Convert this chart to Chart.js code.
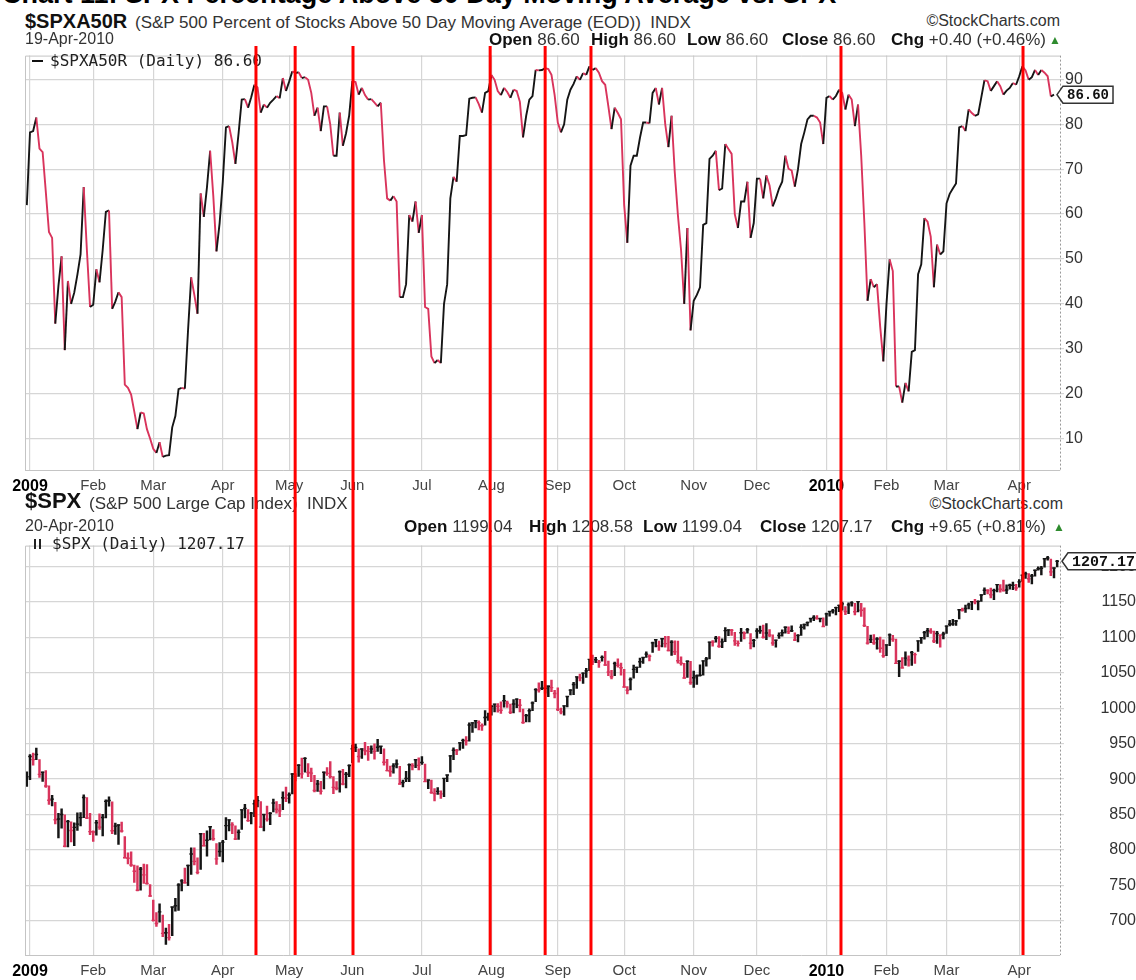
<!DOCTYPE html>
<html>
<head>
<meta charset="utf-8">
<script src="https://cdn.jsdelivr.net/npm/chart.js@4.4.1/dist/chart.umd.min.js"></script>
<style>
  body { margin: 0; width: 1136px; height: 980px; overflow: hidden; position: relative; background: #fff;
         font-family: "Liberation Sans", Arial, sans-serif; color: #333; }
  .lbl { position: absolute; white-space: nowrap; }
  .lbl b { color: #111; }
  .mono { font-family: "DejaVu Sans Mono", "Liberation Mono", monospace; color: #222; }
  .up { color: #2e8b2e; }
  canvas { position: absolute; left: 0; }
  #ov { top: 0; z-index: 10; pointer-events: none; }
  .dash { position: absolute; height: 2px; background: #111; }
  .ico { position: absolute; width: 3px; height: 10px; border-left: 2px solid #222; border-right: 2px solid #222; }
</style>
</head>
<body>
<canvas id="topChart" width="1136" height="450" style="top:45px"></canvas>
<canvas id="spxChart" width="1136" height="452" style="top:528px"></canvas>
<canvas id="ov" width="1136" height="980"></canvas>
<script>
// ---- $SPXA50R, daily closes 31-Dec-2008 .. 19-Apr-2010
const a50r = [
  62, 78.2, 78.5, 81.5, 74.6, 73.8, 65, 56, 54.7, 35.6,
  44, 50.6, 29.7, 45.1, 40, 42.5, 46.5, 51, 66, 52,
  39.3, 39.8, 47.7, 44.8, 52, 60.5, 60.8, 38.9, 40.5, 42.6,
  41.5, 22, 21.3, 19.8, 16, 12.1, 15.8, 15.6, 12.1, 10,
  7.7, 6.8, 9.2, 5.9, 6.2, 6.3, 12.5, 15, 21, 21.3,
  21.1, 34, 45.9, 42, 37.8, 64.6, 59.4, 66, 74.1, 64,
  51.7, 58, 67.2, 79.3, 79.6, 76, 71.2, 78, 85.5, 85.6,
  83.7, 86, 88.8, 88.2, 82.6, 84.4, 83.7, 84.8, 85.5, 86.3,
  85.8, 90.3, 87.4, 89.5, 91.8, 91.4, 91.6, 90.3, 90.5, 89.9,
  87, 81.9, 83.7, 78.5, 84, 84, 80, 73, 73, 82.6,
  75.2, 78, 82, 89.6, 89.4, 86.6, 88.1, 86.5, 85.5, 85.6,
  84.8, 84, 84.8, 72, 63.5, 63, 64, 62.8, 41.5, 41.5,
  44.4, 59.8, 58.3, 62.8, 55.8, 59.8, 39.3, 38.9, 28.3, 26.8,
  27.5, 26.8, 40, 44.4, 63.5, 68.3, 67.2, 77.4, 77.4, 77.6,
  85.7, 85.9, 86, 84.5, 82.6, 87, 87.4, 91, 89.9, 87.4,
  86.5, 88.1, 87.2, 85.9, 87.7, 87.4, 85, 77.1, 81.9, 85.5,
  86.3, 92.1, 92, 92.1, 92.5, 92.3, 91, 86.5, 80.4, 78.2,
  80, 85.5, 87.7, 89, 90.7, 89.9, 91.4, 91, 92.9, 92.1,
  92.5, 91.5, 89.6, 88.8, 84, 78.9, 83.7, 82.5, 81.1, 62,
  53.6, 70.8, 73, 73, 77, 80.4, 80.4, 80.2, 87, 88.1,
  84.4, 88.1, 80, 74.9, 81.9, 69.4, 59.8, 52, 40, 56.9,
  34.1, 40.7, 42, 43.7, 57.6, 58, 72.3, 73, 74.1, 65.3,
  65.7, 75.6, 74.5, 73.4, 60, 56.9, 62.8, 62.8, 67.2, 54.7,
  58, 67.9, 67.9, 63.5, 68.6, 66.4, 61.7, 63.5, 65.7, 67.2,
  73, 70.1, 69.7, 66.1, 70, 75.6, 78.2, 81.1, 81.9, 81.9,
  81.5, 80.4, 75.6, 85.9, 86.3, 85.5, 86.3, 87.7, 87, 83.3,
  86.6, 85.5, 79.6, 84.4, 73, 58, 40.7, 45.5, 43.7, 44.4,
  35, 27.2, 40, 49.9, 47.3, 21.6, 21.6, 18, 22.4, 20.5,
  29.3, 29.7, 46.6, 48.8, 59.1, 58.3, 55, 43.7, 53.2, 51,
  51.7, 62.4, 64.5, 65.7, 66.8, 79.3, 79.6, 78.5, 83.3, 82.5,
  81.9, 82.2, 86, 89.8, 89.6, 87.4, 88.5, 89.6, 88.5, 86.6,
  87.5, 88.1, 89.2, 88.8, 90.7, 92.9, 92, 89.9, 90.5, 92.1,
  91, 92.1, 91.5, 90.7, 86.2, 86.6
];

// ---- $SPX daily bars 31-Dec-2008 .. 20-Apr-2010, one row per month
const spxHigh = [
  910.32,
  934.73, 936.63, 943.85, 927.45, 910.00, 911.93, 890.40, 877.03, 867.28, 851.59, 858.13, 849.64, 841.72, 839.74, 838.22, 852.53, 852.67, 877.86, 874.09, 851.66,
  827, 842, 851, 850.5, 870.75, 875, 868, 838, 835.5, 839.4, 818.9, 796, 797.6, 778.7, 777.85, 775.5, 780.1, 779.4, 751.3,
  729.57, 711.7, 724.1, 708.3, 690.1, 695.3, 719.6, 731.9, 752.6, 758.3, 774.5, 778.7, 803, 803, 788.9, 823.4, 823.4, 826.9, 832.98, 828.7, 809.1, 810.5,
  813.6, 845.6, 842.6, 838.7, 834.2, 828.4, 856.9, 864.3, 856.9, 853, 870.4, 875.6, 868.3, 850.1, 861.8, 852.9, 871.8, 868.3, 864.5, 882.1, 888.7,
  880.5, 907.9, 907.7, 920.3, 929.6, 930.2, 922, 915.6, 905.4, 898.4, 896.97, 910, 916.4, 924.6, 903.5, 896.6, 911.8, 913.8, 909.5, 920,
  947.8, 949.4, 942.5, 942.5, 951.7, 946.3, 946.9, 949.8, 956.2, 946.3, 942.5, 928, 918.4, 922, 927.1, 918.1, 898.7, 910.9, 921.4, 922, 927.99, 930,
  931.9, 921.2, 898.7, 898.6, 886.8, 887.9, 883.6, 901.1, 905.8, 933, 943.96, 941.9, 951.6, 956.5, 959.8, 979.4, 979.8, 982.5, 982.2, 977.8, 996.7, 993.2,
  1003.6, 1005.9, 1006.6, 1008.9, 1018, 1010.1, 1005.8, 1012.1, 1013.1, 1012.6, 998.6, 991.2, 999, 1008.9, 1027.6, 1035.8, 1037.8, 1032.5, 1031.6, 1039.5, 1025.2,
  1028.5, 1000.3, 1003.4, 1016.5, 1026.1, 1036.3, 1044.1, 1048.2, 1049.7, 1056, 1068.8, 1074.8, 1071.5, 1067.3, 1073.8, 1080.2, 1066.3, 1053.5, 1065.1, 1069.6, 1063.4,
  1054.6, 1030.6, 1042.6, 1060.6, 1058, 1070.7, 1071.5, 1079.5, 1075.1, 1093.2, 1096.6, 1094.7, 1098.6, 1101.4, 1101.4, 1095.2, 1094.8, 1094.5, 1072.5, 1063.3, 1066.8, 1066.1,
  1052.2, 1046.9, 1061, 1066.6, 1071.5, 1093.2, 1095.2, 1101.4, 1101.1, 1097.6, 1113.7, 1110.3, 1111.1, 1106.9, 1094.9, 1112.4, 1107.6, 1112.4, 1105.1, 1097.2,
  1112.3, 1115.8, 1117.3, 1119.1, 1110.7, 1103.3, 1096.1, 1106.3, 1110.4, 1114.8, 1114.6, 1116.2, 1106.3, 1103.7, 1117.7, 1118.5, 1121.6, 1126.5, 1130.4, 1130.4, 1126.4, 1127.5,
  1133.9, 1136.6, 1139.2, 1142.5, 1145.4, 1149.7, 1143.3, 1148.4, 1150.4, 1147.8, 1150.5, 1147.9, 1141.6, 1115.5, 1102.9, 1103.7, 1099.5, 1100.2, 1096.5,
  1089.4, 1104.7, 1102.7, 1097.3, 1067.1, 1071.2, 1079.3, 1073.7, 1080, 1077.8, 1095, 1099.9, 1108.2, 1112.4, 1112.3, 1108.6, 1108.3, 1103.5, 1107.2,
  1116.1, 1123.7, 1125.4, 1123.7, 1139.4, 1141.1, 1145.4, 1148.3, 1150.2, 1153.4, 1151.3, 1160.3, 1169.8, 1167.1, 1169.2, 1167.8, 1174.7, 1174.1, 1180.7, 1173.9, 1174.9, 1177.8, 1174.7,
  1181.4, 1187.7, 1191.8, 1189.6, 1188.6, 1194.7, 1199.2, 1199.98, 1210.7, 1213.9, 1210.2, 1197.9, 1208.58
];
const spxLow = [
  889.67,
  899.35, 919.53, 927.28, 902.37, 896.81, 888.31, 864.32, 862.02, 836.93, 817.04, 830.66, 804.47, 804.30, 811.29, 806.07, 827.69, 833.98, 845.73, 844.15, 821.67,
  812, 821, 829, 819.9, 845.4, 861.7, 822.99, 822, 808, 825.2, 789, 780.4, 777, 754.25, 742.37, 743.3, 752.9, 751.8, 734.5,
  699.7, 692.3, 698.4, 677.9, 666.79, 672.88, 679.3, 713.85, 714.8, 742.5, 753.4, 749.9, 765.6, 779, 766.2, 772.5, 805.9, 791.4, 814.2, 813.4, 779.8, 790.9,
  783.3, 814.5, 826.9, 822.9, 814.5, 814.8, 829.1, 845.3, 840.3, 836.9, 847, 860.9, 832, 826.8, 840.6, 835.6, 853.9, 852.1, 847.1, 856.8, 868.3,
  866.1, 879.2, 897.3, 903.9, 901.4, 909.8, 903.3, 896.5, 882, 882.5, 878.9, 886.1, 905.2, 901.4, 879.6, 884.8, 881.5, 891.9, 887.6, 903.3,
  923.1, 938.5, 923.9, 929.3, 934.1, 926.4, 936.2, 927.97, 939, 935.7, 919.7, 911.6, 903.8, 908.3, 915.8, 893, 888.9, 896.3, 896.3, 913, 916.2, 912.9,
  920.8, 896.4, 886.4, 879.9, 869.3, 878.5, 872.8, 875.3, 896.5, 909.9, 927.45, 934.5, 940.9, 943.2, 947.9, 953.3, 965.95, 972.3, 969.4, 968.7, 976.1, 982.9,
  990.2, 994.6, 994.3, 992.5, 1001.4, 1000.99, 992.4, 993.4, 1000.8, 994.6, 978.5, 980.6, 980.6, 996.4, 1009, 1022.5, 1026.2, 1021.1, 1016.2, 1023.1, 1014.6,
  996.3, 991.97, 990.2, 1001.7, 1018.7, 1018.9, 1028, 1038.4, 1035, 1043.4, 1052.9, 1061.2, 1064.3, 1057.5, 1066.4, 1060.4, 1045.9, 1041.2, 1045.9, 1057.8, 1046.5,
  1029.5, 1019.95, 1025.9, 1042.3, 1050.1, 1057.5, 1063, 1071.6, 1066.7, 1078.7, 1086.4, 1081.5, 1086.2, 1085.9, 1080.8, 1074.3, 1075.3, 1063.4, 1060.6, 1042.2, 1043.5, 1033.4,
  1029.4, 1033.4, 1045.2, 1046.5, 1059.3, 1069.3, 1087.4, 1093.1, 1085.7, 1085.3, 1093.8, 1102.2, 1102.7, 1088.4, 1087.3, 1094.2, 1097.6, 1105.7, 1083.7, 1086.3,
  1098.6, 1105.3, 1098.7, 1096.5, 1100.8, 1088.6, 1085.9, 1098.2, 1101.4, 1105.6, 1105, 1107.9, 1095, 1093.4, 1102.5, 1111.4, 1116, 1121.1, 1123.5, 1125.6, 1121.6, 1114.8,
  1116.6, 1129.7, 1133.9, 1131.3, 1136.2, 1138.3, 1131.9, 1133.2, 1143.8, 1131.4, 1135.8, 1129.3, 1114.8, 1090.2, 1092.4, 1089.9, 1083.1, 1078.5, 1071.6,
  1073.9, 1087.96, 1093.97, 1062.8, 1044.5, 1056.5, 1060.1, 1059.3, 1060.1, 1062.97, 1079.9, 1091.4, 1097.2, 1100.8, 1105.4, 1092.2, 1091.2, 1086, 1097.6,
  1105.4, 1116.1, 1116.6, 1116.5, 1125.7, 1136.8, 1134.9, 1140.1, 1138.99, 1146.97, 1138.6, 1150.4, 1159.9, 1161.2, 1155.3, 1152.9, 1163.8, 1163.7, 1165.1, 1161.5, 1167.7, 1167.1, 1165.9,
  1170.7, 1178.7, 1182.8, 1177.3, 1175.1, 1186, 1194.7, 1187.97, 1198.7, 1208.5, 1186.8, 1183.7, 1199.04
];
const spxClose = [
  903.25,
  931.80, 927.45, 934.70, 906.65, 909.73, 890.35, 870.26, 871.79, 842.62, 843.74, 850.12, 805.22, 840.24, 827.50, 831.95, 836.57, 845.71, 874.09, 845.14, 825.88,
  825.44, 838.51, 832.23, 845.85, 868.60, 869.89, 827.16, 833.74, 835.19, 826.84, 789.17, 788.42, 778.94, 770.05, 743.33, 773.14, 764.90, 752.83, 735.09,
  700.82, 696.33, 712.87, 682.55, 683.38, 676.53, 719.60, 721.36, 750.74, 756.55, 753.89, 778.12, 794.35, 784.04, 768.54, 822.92, 806.12, 813.88, 832.86, 815.94, 787.53, 797.87,
  811.08, 834.38, 842.50, 835.48, 815.55, 825.16, 856.56, 858.73, 841.50, 852.06, 865.30, 869.60, 832.39, 850.08, 843.55, 851.92, 866.23, 857.51, 855.16, 873.64, 872.81,
  877.52, 907.24, 903.80, 919.53, 907.39, 929.23, 909.24, 908.35, 883.92, 893.07, 882.88, 909.71, 908.13, 903.47, 888.33, 887.00, 910.33, 893.06, 906.83, 919.14,
  942.87, 944.74, 931.76, 942.46, 940.09, 939.14, 942.43, 939.15, 944.89, 946.21, 923.72, 911.97, 910.71, 918.37, 921.23, 893.04, 895.10, 900.94, 920.26, 918.90, 927.23, 919.32,
  923.33, 896.42, 898.72, 881.03, 879.56, 882.68, 879.13, 901.05, 905.84, 932.68, 940.74, 940.38, 951.13, 954.58, 954.07, 976.29, 979.26, 982.18, 979.62, 975.15, 986.75, 987.48,
  1002.63, 1005.65, 1002.72, 997.08, 1010.48, 1007.10, 994.35, 1005.81, 1012.73, 1004.09, 979.73, 989.67, 996.46, 1007.37, 1026.13, 1025.57, 1028.00, 1028.12, 1030.98, 1028.93, 1020.62,
  998.04, 994.75, 1003.24, 1016.40, 1025.39, 1033.37, 1044.14, 1042.73, 1049.34, 1052.63, 1068.76, 1065.49, 1068.30, 1064.66, 1071.66, 1060.87, 1050.78, 1044.38, 1062.98, 1060.61, 1057.08,
  1029.85, 1025.21, 1040.46, 1054.72, 1057.58, 1065.48, 1071.49, 1076.19, 1073.19, 1092.02, 1096.56, 1087.68, 1097.91, 1091.06, 1081.40, 1092.91, 1079.60, 1066.95, 1063.41, 1042.63, 1066.11, 1036.19,
  1042.88, 1045.41, 1046.50, 1066.63, 1069.30, 1093.08, 1093.01, 1098.51, 1087.24, 1093.48, 1109.30, 1110.32, 1109.80, 1094.90, 1091.38, 1106.24, 1105.65, 1110.63, 1091.49, 1095.63,
  1108.86, 1109.24, 1099.92, 1105.98, 1103.25, 1091.94, 1095.95, 1102.35, 1106.41, 1114.11, 1107.93, 1109.18, 1096.08, 1102.47, 1114.05, 1118.02, 1120.59, 1126.48, 1127.78, 1126.20, 1126.42, 1115.10,
  1132.99, 1136.52, 1137.14, 1141.69, 1144.98, 1146.98, 1136.22, 1145.68, 1148.46, 1136.03, 1150.23, 1138.04, 1116.48, 1091.76, 1096.78, 1092.17, 1097.50, 1084.53, 1073.87,
  1089.19, 1103.32, 1097.28, 1063.11, 1066.19, 1056.74, 1070.52, 1068.13, 1078.47, 1075.51, 1094.87, 1099.51, 1106.75, 1109.17, 1108.01, 1094.60, 1105.24, 1102.94, 1104.49,
  1115.71, 1118.31, 1118.79, 1122.97, 1138.70, 1138.50, 1140.45, 1145.61, 1150.24, 1149.99, 1150.51, 1159.46, 1166.21, 1165.83, 1159.90, 1165.81, 1174.17, 1167.72, 1165.73, 1166.59, 1173.22, 1173.27, 1169.43,
  1178.10, 1187.44, 1189.44, 1182.45, 1186.44, 1194.37, 1196.48, 1197.30, 1210.65, 1211.67, 1192.13, 1197.52, 1207.17
];

// first trading day of each month (bar index) and its axis label
const monthIdx    = [1, 21, 40, 62, 83, 103, 125, 147, 168, 189, 211, 231, 253, 272, 291, 314];
const monthLabels = ['2009','Feb','Mar','Apr','May','Jun','Jul','Aug','Sep','Oct','Nov','Dec','2010','Feb','Mar','Apr'];
const a50rTicks   = [10, 20, 30, 40, 50, 60, 70, 80, 90];
const spxTicks    = [700, 750, 800, 850, 900, 950, 1000, 1050, 1100, 1150, 1200];
// hand-drawn red markers (bar index)
const markIdx     = [72.5, 84.9, 103.2, 146.6, 164, 178.5, 257.6, 315.2];

const RED = '#d9345c', BLACK = '#151515', GRID = '#d6d6d6';
const FONT = '"Liberation Sans", Arial, sans-serif';
Chart.defaults.font.family = FONT;

// ---- header texts
function label(html, x, base, size, cls, right) {
  const d = document.createElement('div');
  d.className = 'lbl ' + (cls || '');
  d.style.fontSize = size + 'px';
  d.style.lineHeight = size + 'px';
  d.style.top = (base - 0.8465 * size) + 'px';
  if (right) d.style.right = (1136 - x) + 'px'; else d.style.left = x + 'px';
  d.innerHTML = html;
  document.body.appendChild(d);
}
label('<b style="color:#000">Chart 11: SPX Percentage Above 50 Day Moving Average vs. SPX</b>', 2, 4, 27);

label('<b>$SPXA50R</b>', 25, 28, 20);
label('(S&amp;P 500 Percent of Stocks Above 50 Day Moving Average (EOD))&nbsp; INDX', 135, 28, 17);
label('&copy;StockCharts.com', 1060, 27, 16, '', true);
label('19-Apr-2010', 25, 45, 16);
[[489, 'Open', '86.60'], [591, 'High', '86.60'], [687, 'Low', '86.60'], [782, 'Close', '86.60'], [891, 'Chg', '+0.40 (+0.46%)']]
  .forEach(g => label('<b>' + g[1] + '</b> ' + g[2], g[0], 45, 17));
label('&#9650;', 1049, 44, 12, 'up');

label('<b>$SPX</b>', 25, 509, 22);
label('(S&amp;P 500 Large Cap Index)&nbsp; INDX', 89, 509, 17);
label('&copy;StockCharts.com', 1063, 510, 16, '', true);
label('20-Apr-2010', 25, 532, 16);
[[404, 'Open', '1199.04'], [529, 'High', '1208.58'], [643, 'Low', '1199.04'], [760, 'Close', '1207.17'], [891, 'Chg', '+9.65 (+0.81%)']]
  .forEach(g => label('<b>' + g[1] + '</b> ' + g[2], g[0], 532, 17));
label('&#9650;', 1053, 531, 12, 'up');

// legends inside the plots
label('$SPXA50R (Daily) 86.60', 50, 67, 16, 'mono');
label('$SPX (Daily) 1207.17', 52, 550, 16, 'mono');
const dash = document.createElement('div'); dash.className = 'dash';
dash.style.cssText = 'left:32px;top:60px;width:11px;';
document.body.appendChild(dash);
const ico = document.createElement('div'); ico.className = 'ico';
ico.style.cssText = 'left:34px;top:539px;';
document.body.appendChild(ico);

// ---- plugins
const frame = {
  id: 'frame',
  afterDatasetsDraw(c) {
    const a = c.chartArea, g = c.ctx;
    g.save();
    g.strokeStyle = '#c4c4c4'; g.lineWidth = 1;
    g.beginPath();
    g.moveTo(a.left + 0.5, a.bottom); g.lineTo(a.left + 0.5, a.top + 0.5); g.lineTo(a.right, a.top + 0.5);
    g.stroke();
    // dotted right-hand axis line
    g.strokeStyle = '#999'; g.setLineDash([2, 2]);
    g.beginPath(); g.moveTo(a.right + 0.5, a.top); g.lineTo(a.right + 0.5, a.bottom); g.stroke();
    g.restore();
  }
};
const lastTag = {
  id: 'lastTag',
  afterDraw(c, args, o) {
    const g = c.ctx, y = c.scales.y.getPixelForValue(o.value);
    const x0 = c.chartArea.right + o.dx;
    g.save();
    g.font = 'bold ' + o.size + 'px "Liberation Mono", monospace';
    const w = g.measureText(o.text).width + 8, h = 17;
    g.beginPath();
    g.moveTo(x0, y); g.lineTo(x0 + 6, y - h / 2); g.lineTo(x0 + 6 + w, y - h / 2);
    g.lineTo(x0 + 6 + w, y + h / 2); g.lineTo(x0 + 6, y + h / 2); g.closePath();
    g.fillStyle = '#fff'; g.fill();
    g.strokeStyle = '#333'; g.lineWidth = 1.5; g.stroke();
    g.fillStyle = '#111'; g.textBaseline = 'middle';
    g.fillText(o.text, x0 + 10, y + 1);
    g.restore();
  }
};

function xAxis() {
  return {
    type: 'linear', min: -0.58, max: 326.9, offset: false,
    afterBuildTicks: s => { s.ticks = monthIdx.map(v => ({ value: v })); },
    afterFit: s => { s.height = 25; },
    grid: { color: GRID, lineWidth: 1.2, drawTicks: false, offset: false },
    border: { color: '#c4c4c4' },
    ticks: {
      autoSkip: false, maxRotation: 0, padding: 7,
      callback: (v, i) => monthLabels[i],
      color: c => (c.index === 0 || c.index === 12) ? '#000' : '#444',
      font: c => (c.index === 0 || c.index === 12) ? { size: 16, weight: 'bold' } : { size: 15 }
    }
  };
}

function yAxis(min, max, ticks, padding, align) {
  return {
    position: 'right', min, max, beginAtZero: false,
    afterBuildTicks: s => { s.ticks = ticks.map(v => ({ value: v })); },
    afterFit: s => { s.width = 76; },
    grid: { color: GRID, lineWidth: 1.2, tickLength: 4 },
    border: { display: false },
    ticks: { padding, crossAlign: align, color: '#333', font: { size: 16 }, callback: v => String(v) }
  };
}

const common = {
  responsive: false, animation: false, devicePixelRatio: 1, events: [],
  plugins: { legend: { display: false }, tooltip: { enabled: false } }
};

const topChart = new Chart(document.getElementById('topChart'), {
  type: 'line',
  data: {
    datasets: [{
      data: a50r.map((v, k) => ({ x: k, y: v })),
      borderColor: BLACK, borderWidth: 1.9, pointRadius: 0, tension: 0,
      segment: { borderColor: c => c.p1.parsed.y < c.p0.parsed.y ? RED : BLACK }
    }]
  },
  options: {
    ...common,
    layout: { padding: { left: 25, top: 4, right: 0, bottom: 0 } },
    plugins: { ...common.plugins, lastTag: { value: a50r[a50r.length - 1], text: '86.60', dx: -3, size: 14 } },
    scales: { x: xAxis(), y: yAxis(3.0, 95.3, a50rTicks, 1, 'near') }
  },
  plugins: [frame, lastTag]
});

const barColors = spxClose.map((c, k) => (k > 0 && c < spxClose[k - 1]) ? RED : BLACK);

const spxChart = new Chart(document.getElementById('spxChart'), {
  type: 'line',
  data: {
    datasets: [{
      type: 'bar',
      data: spxHigh.map((h, k) => ({ x: k, y: [spxLow[k], h] })),
      backgroundColor: barColors, barThickness: 1.8, grouped: false
    }, {
      type: 'line', showLine: false,
      data: spxClose.map((c, k) => ({ x: k, y: c })),
      pointStyle: 'line', pointRadius: 1.8, pointBorderWidth: 1.4, pointBorderColor: barColors
    }]
  },
  options: {
    ...common,
    layout: { padding: { left: 25, top: 6, right: 0, bottom: 0 } },
    plugins: { ...common.plugins, lastTag: { value: spxClose[spxClose.length - 1], text: '1207.17', dx: 2, size: 15 } },
    scales: { x: xAxis(), y: yAxis(652, 1229.2, spxTicks, 8, 'far') }
  },
  plugins: [frame, lastTag]
});

// ---- red marker lines across both panels, placed with the shared x scale
const ov = document.getElementById('ov').getContext('2d');
ov.strokeStyle = '#ff0000';
ov.lineWidth = 3;
markIdx.forEach(k => {
  const x = topChart.scales.x.getPixelForValue(k);
  ov.beginPath();
  ov.moveTo(x, 46);
  ov.lineTo(x, spxChart.chartArea.bottom + 528);
  ov.stroke();
});
</script>
</body>
</html>
